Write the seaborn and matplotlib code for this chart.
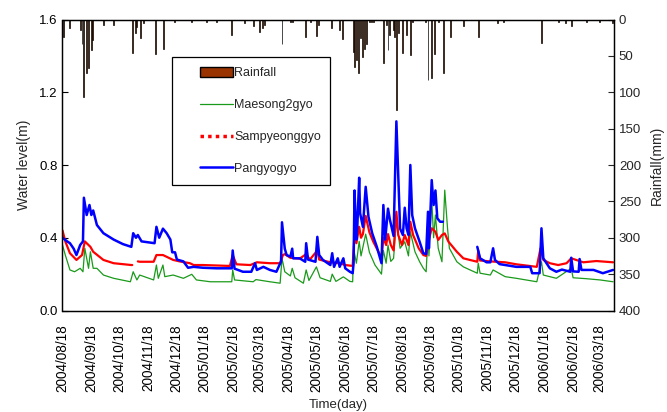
import numpy as np
import pandas as pd
import matplotlib
matplotlib.use("Agg")
import matplotlib.pyplot as plt
import matplotlib.dates as mdates
from matplotlib.lines import Line2D
from matplotlib.patches import Patch, Rectangle
import seaborn as sns

START = pd.Timestamp("2004-08-18")   # day 0 of the record

# ---------------- data (days since START) ----------------
maesong_days = [0, 3, 8, 13, 19, 22, 24, 28, 30, 33, 37, 44, 55, 73, 76, 80, 83, 98, 101, 103,
                108, 110, 119, 130, 139, 144, 159, 182, 183, 185, 205, 208, 223, 234, 236, 239,
                245, 247, 250, 259, 262, 265, 273, 277, 288, 290, 294, 302, 309, 312, 313, 316,
                319, 321, 326, 330, 336, 343, 345, 348, 350, 353, 356, 359, 363, 368, 372, 374,
                379, 384, 388, 391, 393, 394, 397, 399, 401, 404, 408, 411, 414, 416, 424, 431,
                446, 447, 449, 460, 463, 476, 488, 510, 515, 517, 531, 547, 549, 563, 578, 592]
maesong_level = [0.36, 0.305, 0.223, 0.213, 0.232, 0.213, 0.342, 0.232, 0.323, 0.232, 0.232,
                 0.195, 0.177, 0.158, 0.213, 0.168, 0.195, 0.168, 0.25, 0.177, 0.25, 0.186,
                 0.195, 0.177, 0.199, 0.168, 0.158, 0.158, 0.223, 0.168, 0.158, 0.17, 0.158,
                 0.15, 0.287, 0.213, 0.19, 0.232, 0.18, 0.15, 0.223, 0.165, 0.24, 0.18, 0.16,
                 0.20, 0.16, 0.185, 0.16, 0.158, 0.34, 0.26, 0.38, 0.30, 0.42, 0.32, 0.25, 0.20,
                 0.33, 0.26, 0.36, 0.27, 0.287, 0.50, 0.342, 0.378, 0.30, 0.433, 0.323, 0.268,
                 0.232, 0.213, 0.415, 0.30, 0.617, 0.40, 0.525, 0.342, 0.268, 0.662, 0.452,
                 0.342, 0.268, 0.24, 0.205, 0.26, 0.205, 0.195, 0.223, 0.186, 0.177, 0.158,
                 0.268, 0.195, 0.177, 0.232, 0.18, 0.175, 0.168, 0.158]

sampyeong_days = [0, 3, 8, 15, 21, 24, 30, 33, 44, 55, 74, 75, 78, 81, 83, 98, 101, 108, 119,
                  126, 137, 141, 151, 180, 183, 187, 202, 209, 223, 234, 237, 239, 245, 255,
                  262, 266, 274, 276, 288, 298, 304, 312, 314, 316, 319, 321, 323, 326, 330,
                  334, 339, 343, 345, 348, 350, 353, 356, 359, 361, 365, 368, 372, 374, 377,
                  383, 388, 391, 393, 397, 401, 404, 408, 411, 415, 418, 424, 431, 438, 446,
                  447, 449, 460, 476, 488, 510, 514, 517, 524, 533, 542, 547, 560, 574, 592]
sampyeong_level = [0.44, 0.38, 0.315, 0.278, 0.305, 0.38, 0.35, 0.323, 0.278, 0.26, 0.25,
                   0.25, np.nan, 0.27, 0.268, 0.268, 0.305, 0.305, 0.278, 0.27, 0.26, 0.25,
                   0.25, 0.245, 0.305, 0.254, 0.25, 0.265, 0.26, 0.26, 0.305, 0.31, 0.29,
                   0.285, 0.31, 0.28, 0.33, 0.28, 0.265, 0.26, 0.25, 0.245, 0.42, 0.37, 0.46,
                   0.40, 0.42, 0.52, 0.43, 0.38, 0.33, 0.29, 0.40, 0.36, 0.42, 0.36, 0.33,
                   0.543, 0.415, 0.36, 0.415, 0.36, 0.488, 0.415, 0.342, 0.305, 0.30, 0.37,
                   0.452, 0.433, 0.388, 0.415, 0.424, 0.378, 0.36, 0.323, 0.287, 0.278, 0.268,
                   0.33, 0.275, 0.27, 0.265, 0.254, 0.24, 0.342, 0.278, 0.26, 0.25, 0.26,
                   0.287, 0.265, 0.272, 0.265]

pangyo_days = [0, 5, 8, 12, 15, 19, 22, 23, 26, 29, 31, 33, 37, 44, 55, 65, 74, 76, 79, 81,
               85, 99, 101, 104, 108, 112, 116, 118, 121, 123, 130, 135, 141, 151, 166, 182,
               183, 185, 194, 203, 207, 209, 216, 223, 230, 235, 236, 239, 241, 245, 247, 248,
               255, 261, 262, 264, 272, 274, 276, 280, 288, 290, 292, 296, 298, 302, 304, 309,
               312, 313, 314, 316, 317, 319, 320, 323, 326, 329, 333, 338, 343, 345, 347, 350,
               352, 356, 359, 361, 363, 366, 368, 370, 372, 374, 376, 379, 384, 388, 391, 393,
               394, 397, 399, 401, 403, 406, 409, 428, 446, 449, 456, 460, 463, 465, 470, 488,
               503, 505, 513, 515, 517, 524, 531, 537, 546, 547, 549, 555, 556, 558, 571, 581,
               592]
pangyo_level = [0.40, 0.38, 0.37, 0.34, 0.305, 0.36, 0.38, 0.62, 0.525, 0.58, 0.525, 0.55,
                0.47, 0.425, 0.39, 0.365, 0.35, 0.425, 0.40, 0.415, 0.38, 0.37, 0.46, 0.40,
                0.45, 0.425, 0.39, 0.32, 0.32, 0.28, 0.27, 0.235, 0.24, 0.235, 0.232, 0.232,
                0.33, 0.23, 0.213, 0.213, 0.26, 0.223, 0.24, 0.223, 0.213, 0.27, 0.485, 0.34,
                0.305, 0.296, 0.34, 0.287, 0.287, 0.268, 0.37, 0.28, 0.268, 0.405, 0.305,
                0.278, 0.25, 0.315, 0.24, 0.287, 0.24, 0.287, 0.232, 0.213, 0.205, 0.26, 0.66,
                0.39, 0.46, 0.73, 0.535, 0.46, 0.68, 0.515, 0.425, 0.35, 0.26, 0.58, 0.39,
                0.56, 0.50, 0.41, 1.04, 0.745, 0.45, 0.415, 0.565, 0.452, 0.415, 0.80, 0.525,
                0.452, 0.378, 0.315, 0.31, 0.543, 0.342, 0.717, 0.58, 0.66, 0.507, 0.488,
                0.488, np.nan, 0.35, 0.287, 0.265, 0.265, 0.342, 0.278, 0.255, 0.24, 0.24,
                0.205, 0.205, 0.452, 0.287, 0.232, 0.213, 0.225, 0.213, 0.29, 0.215, 0.213,
                0.283, 0.223, 0.223, 0.205, 0.223]

rain_days = [1, 8, 19, 21, 23, 26, 28, 31, 32, 44, 55, 75, 78, 80, 84, 87, 100, 109, 120, 139,
             155, 166, 182, 196, 205, 212, 215, 217, 236, 245, 247, 261, 267, 273, 275, 289,
             298, 301, 313, 314, 316, 318, 320, 323, 325, 327, 330, 332, 334, 345, 348, 350,
             352, 356, 357, 359, 361, 366, 370, 374, 376, 390, 393, 397, 400, 404, 410, 417,
             431, 447, 468, 474, 515, 533, 541, 547, 563, 577, 591]
rain_mm = [24, 12, 14, 33, 106, 74, 67, 42, 28, 8, 8, 46, 19, 10, 26, 5, 47, 40, 3, 3,
           3, 3, 21, 5, 9, 17, 12, 7, 33, 4, 3, 24, 3, 23, 8, 12,
           14, 27, 44, 65, 56, 73, 26, 51, 40, 33, 4, 3, 3, 60, 7, 42,
           21, 14, 24, 124, 18, 46, 21, 49, 3, 3, 83, 81, 47, 3, 74, 24,
           9, 24, 5, 3, 32, 3, 5, 9, 3, 4, 5]

series_names = ["Maesong2gyo", "Sampyeonggyo", "Pangyogyo"]
series_colors = ["#1a9a1a", "#ff0000", "#0000ff"]
series_widths = [0.9, 1.6, 1.8]

# ---------------- figure ----------------
sns.set_style("white")
plt.rcParams["font.family"] = ["Liberation Sans", "DejaVu Sans"]

fig = plt.figure(figsize=(6.67, 4.12), dpi=100)
ax = fig.add_axes([62.5 / 667, 1 - 310.5 / 412, 551.5 / 667, 291 / 412])

for d, v, c, w in zip([maesong_days, sampyeong_days, pangyo_days],
                      [maesong_level, sampyeong_level, pangyo_level],
                      series_colors, series_widths):
    df = pd.DataFrame({"date": START + pd.to_timedelta(d, unit="D"), "level": v})
    df["seg"] = df["level"].isna().cumsum()
    for _, part in df.dropna().groupby("seg"):
        sns.lineplot(data=part, x="date", y="level", color=c, linewidth=w,
                     ax=ax, legend=False, estimator=None, sort=False)

ax.set_ylim(0, 1.6)
ax.set_yticks(np.arange(0, 1.61, 0.4))
ax.yaxis.set_major_formatter(matplotlib.ticker.FormatStrFormatter("%.1f"))
xmax = START + pd.Timedelta(days=593)
ax.set_xlim(START, xmax)
ticks = pd.date_range("2004-08-18", "2006-03-18", freq=pd.DateOffset(months=1))
ax.set_xticks(ticks)
ax.xaxis.set_major_formatter(mdates.DateFormatter("%Y/%m/%d"))
plt.setp(ax.get_xticklabels(), rotation=90, fontsize=9.8)
plt.setp(ax.get_yticklabels(), fontsize=9.5)
ax.set_xlabel("Time(day)", fontsize=9.5, labelpad=5)
ax.set_ylabel("Water level(m)", fontsize=10, labelpad=6)
ax.tick_params(axis="both", direction="in", length=4, width=0.8, colors="black")
ax.tick_params(axis="x", pad=10)

ax2 = ax.twinx()
rain_dates = START + pd.to_timedelta(rain_days, unit="D")
ax2.bar(rain_dates, rain_mm, width=1.0, color="#993300", edgecolor="black",
        linewidth=0.5)
ax2.set_ylim(400, 0)
ax2.set_yticks(np.arange(0, 401, 50))
ax2.set_ylabel("Rainfall(mm)", fontsize=10, labelpad=6)
ax2.tick_params(axis="y", direction="in", length=4, width=0.8)
plt.setp(ax2.get_yticklabels(), fontsize=9.5)
ax2.set_xlim(START, xmax)

for a in (ax, ax2):
    for s in a.spines.values():
        s.set_color("black")
        s.set_linewidth(0.9)

# legend box
ax2.add_patch(Rectangle(((172 - 62.5) / 551.5, (310.5 - 185) / 291),
                        (330 - 172) / 551.5, (185 - 57) / 291,
                        transform=ax2.transAxes, fill=False, edgecolor="black",
                        linewidth=0.9, zorder=5))
handles = [Patch(facecolor="#993300", edgecolor="black", linewidth=1.0),
           Line2D([], [], color=series_colors[0], linewidth=0.9),
           Line2D([], [], color=series_colors[1], linewidth=2.5, linestyle=(0, (1, 1.2))),
           Line2D([], [], color=series_colors[2], linewidth=1.8)]
labels = ["Rainfall"] + series_names
ax2.legend(handles, labels, loc="upper left",
           bbox_to_anchor=((200 - 62.5) / 551.5, (310.5 - 67) / 291),
           frameon=False, borderpad=0, borderaxespad=0, fontsize=9,
           handlelength=2.65, handleheight=0.9, handletextpad=0.1, labelspacing=1.55)

fig.savefig("out.png", dpi=100, facecolor="white")
